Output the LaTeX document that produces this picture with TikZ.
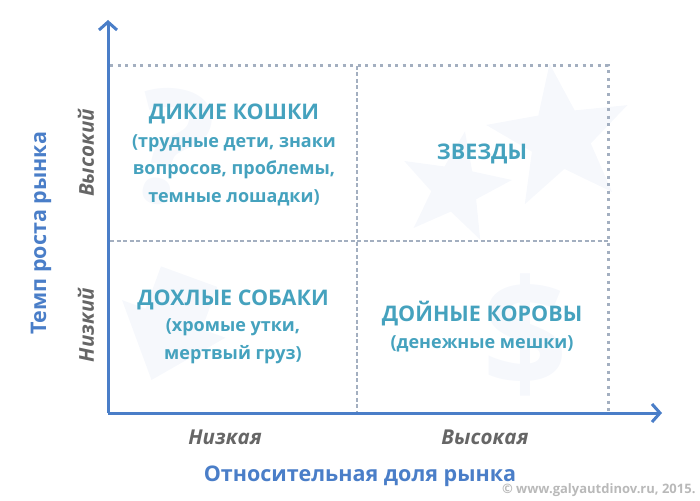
\documentclass[tikz,border=0pt]{standalone}
\usepackage{fontspec}
\setmainfont{Open Sans}[BoldFont={* Bold},ItalicFont={* Italic},BoldItalicFont={* Bold Italic}]
\usetikzlibrary{arrows.meta,shapes.geometric}
\definecolor{axisblue}{HTML}{4A7EC8}
\definecolor{quadteal}{HTML}{45A2BE}
\definecolor{gridgray}{HTML}{A3AFC0}
\definecolor{labgray}{HTML}{666666}
\definecolor{faint}{HTML}{F6F8FC}
\tikzset{
  axis/.style={draw=axisblue, line width=3pt, -{Straight Barb[length=8pt,width=18pt,line width=3pt]}},
  outerdot/.style={draw=gridgray, line width=3pt, dash pattern=on 3pt off 4.5pt},
  innerdash/.style={draw=gridgray, line width=1.6pt, dash pattern=on 4pt off 2.5pt},
  quadtitle/.style={text=quadteal, font=\fontsize{21.5}{24}\selectfont\bfseries, align=center},
  quadsub/.style={text=quadteal, font=\fontsize{18}{27.5}\selectfont\bfseries, align=center},
  gray label/.style={text=labgray, font=\fontsize{20.5}{22}\selectfont\bfseries\itshape},
  axis title/.style={text=axisblue, font=\fontsize{21.5}{24}\selectfont\bfseries},
  deco/.style={fill=faint, draw=none, star, star points=5, star point ratio=2.4}
}
\begin{document}
\begin{tikzpicture}[x=1pt,y=-1pt]
\useasboundingbox (0,0) rectangle (700,500);
% faint background decorations
\node[deco, minimum size=150pt, rotate=8] (bigstar) at (560,138) {};
\node[deco, minimum size=115pt, rotate=-10] (smallstar) at (455,188) {};
\node[text=faint, font=\fontsize{160}{160}\selectfont\bfseries, rotate=-12] (qmark) at (172,148) {?};
\node[text=faint, font=\fontsize{150}{150}\selectfont\bfseries] (dollar) at (525,335) {\$};
\fill[faint, rotate around={-20:(175,330)}] (140,275) -- (200,275) -- (200,320) -- (225,320) -- (170,385) -- (115,320) -- (140,320) -- cycle;
% coordinates
\coordinate (O) at (108,413);
\coordinate (ytip) at (108,20);
\coordinate (xtip) at (662,413);
\coordinate (tl) at (110,66);
\coordinate (tr) at (608,66);
\coordinate (br) at (608,413);
\coordinate (mt) at (357,66);
\coordinate (mb) at (357,413);
\coordinate (ml) at (110,241);
\coordinate (mr) at (608,241);
% grid
\draw[innerdash] (mt) -- (mb);
\draw[innerdash] (ml) -- (mr);
\draw[outerdot] (tl) -- (tr) -- (br);
% axes
\draw[axis] (O) -- (ytip);
\draw[axis] (O) -- (xtip);
% quadrant texts
\node[quadtitle] (q1t) at (234,114) {ДИКИЕ КОШКИ};
\node[quadsub] (q1s) at (234,170) {(трудные дети, знаки\\вопросов, проблемы,\\темные лошадки)};
\node[quadtitle] (q2t) at (482,154) {ЗВЕЗДЫ};
\node[quadtitle] (q3t) at (233,300) {ДОХЛЫЕ СОБАКИ};
\node[quadsub] (q3s) at (233,341) {(хромые утки,\\мертвый груз)};
\node[quadtitle] (q4t) at (482,314) {ДОЙНЫЕ КОРОВЫ};
\node[quadsub] (q4s) at (482,344) {(денежные мешки)};
% gray axis labels
\node[gray label, rotate=90] (yhigh) at (86,153) {Высокий};
\node[gray label, rotate=90] (ylow) at (86,325) {Низкий};
\node[gray label] (xlow) at (225,437) {Низкая};
\node[gray label] (xhigh) at (485,437) {Высокая};
% axis titles
\node[axis title, rotate=90] (ytitle) at (41,233) {Темп роста рынка};
\node[axis title] (xtitle) at (360,476) {Относительная доля рынка};
% watermark
\node[text=gray!55, font=\fontsize{13}{14}\selectfont\bfseries, anchor=east] (wm) at (699,490) {© www.galyautdinov.ru, 2015.};
\end{tikzpicture}
\end{document}
